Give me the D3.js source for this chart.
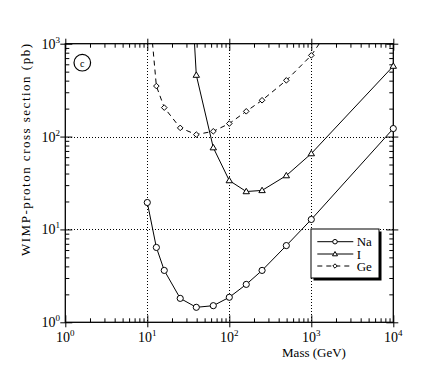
<!DOCTYPE html>
<html>
<head>
<meta charset="utf-8">
<script src="https://cdn.jsdelivr.net/npm/d3@7"></script>
<style>
  html, body { margin: 0; padding: 0; background: #fff; }
  svg { display: block; }
  text { font-family: "Liberation Serif", "Times New Roman", serif; fill: #000; }
</style>
</head>
<body>
<svg id="chart" width="423" height="381"></svg>
<script>
// ---- data ----
const massTicks = [1, 10, 100, 1000, 10000];
const massExponents = ["0", "1", "2", "3", "4"];
const sigmaTicks = [1, 10, 100, 1000];
const sigmaExponents = ["0", "1", "2", "3"];

// Na (circles, solid)
const naMass  = [10, 12.9, 16.1, 25.2, 39.6, 63.8, 100, 161, 251, 496, 1000, 10000];
const naSigma = [19.5, 6.4, 3.62, 1.81, 1.45, 1.51, 1.86, 2.56, 3.62, 6.7, 12.8, 122];

// I (triangles, solid) - first point lies above the plotted range
const iMass  = [36, 39.6, 63.8, 100, 161, 251, 496, 1000, 10000];
const iSigma = [2000, 459, 76, 33.6, 25.6, 26.3, 38, 65.6, 574];

// Ge (diamonds, dashed) - first and last points lie above the plotted range
const geMass  = [10.8, 12.9, 16.1, 25.2, 39.6, 63.8, 100, 161, 251, 496, 1000, 1585];
const geSigma = [2000, 350, 205, 124, 105, 114, 138, 187, 246, 403, 749, 1356];

const seriesNames = ["Na", "I", "Ge"];
const gridMass = [10, 100, 1000];
const gridSigma = [10, 100];

// ---- layout ----
const svg = d3.select("#chart");
const x = d3.scaleLog().domain([1, 10000]).range([65.3, 393.3]);
const y = d3.scaleLog().domain([1, 1000]).range([322.3, 43.7]);
const [x0, x1] = x.range();
const [y0, y1] = y.range();

svg.append("rect").attr("width", 423).attr("height", 381).attr("fill", "#fff");

svg.append("defs").append("clipPath").attr("id", "plotclip")
  .append("rect").attr("x", x0).attr("y", y1).attr("width", x1 - x0).attr("height", y0 - y1);

// grid (dotted)
const grid = svg.append("g").attr("stroke", "#000").attr("stroke-width", 1)
  .attr("stroke-dasharray", "1,2").attr("shape-rendering", "crispEdges");
grid.selectAll("line.gx").data(gridMass).enter().append("line")
  .attr("x1", d => Math.round(x(d)) + 0.5).attr("x2", d => Math.round(x(d)) + 0.5)
  .attr("y1", y1).attr("y2", y0);
grid.selectAll("line.gy").data(gridSigma).enter().append("line")
  .attr("y1", d => Math.round(y(d)) + 0.5).attr("y2", d => Math.round(y(d)) + 0.5)
  .attr("x1", x0).attr("x2", x1);

// minor ticks (all log ticks, inside)
const minorX = x.ticks().filter(d => !massTicks.includes(d));
const minorY = y.ticks().filter(d => !sigmaTicks.includes(d));

function styleAxis(g) {
  g.select(".domain").remove();
  g.selectAll(".tick line").attr("stroke", "#000").attr("stroke-width", 1);
  g.selectAll(".tick text").remove();
}
svg.append("g").attr("transform", `translate(0,${y0})`)
  .call(d3.axisBottom(x).tickValues(minorX).tickSize(-4).tickFormat("")).call(styleAxis);
svg.append("g").attr("transform", `translate(0,${y1})`)
  .call(d3.axisTop(x).tickValues(minorX).tickSize(-4).tickFormat("")).call(styleAxis);
svg.append("g").attr("transform", `translate(${x0},0)`)
  .call(d3.axisLeft(y).tickValues(minorY).tickSize(-4).tickFormat("")).call(styleAxis);
svg.append("g").attr("transform", `translate(${x1},0)`)
  .call(d3.axisRight(y).tickValues(minorY).tickSize(-4).tickFormat("")).call(styleAxis);

// major ticks (outside + inside)
[5, -7].forEach(len => {
  svg.append("g").attr("transform", `translate(0,${y0})`)
    .call(d3.axisBottom(x).tickValues(massTicks).tickSize(len).tickFormat("")).call(styleAxis);
  svg.append("g").attr("transform", `translate(0,${y1})`)
    .call(d3.axisTop(x).tickValues(massTicks).tickSize(len).tickFormat("")).call(styleAxis);
  svg.append("g").attr("transform", `translate(${x0},0)`)
    .call(d3.axisLeft(y).tickValues(sigmaTicks).tickSize(len).tickFormat("")).call(styleAxis);
  svg.append("g").attr("transform", `translate(${x1},0)`)
    .call(d3.axisRight(y).tickValues(sigmaTicks).tickSize(len).tickFormat("")).call(styleAxis);
});

// frame
svg.append("rect").attr("x", x0).attr("y", y1).attr("width", x1 - x0).attr("height", y0 - y1)
  .attr("fill", "none").attr("stroke", "#000").attr("stroke-width", 1.3);

// tick labels
const xl = svg.append("g").attr("font-size", 14);
massTicks.forEach((d, i) => {
  const t = xl.append("text").attr("x", x(d)).attr("y", 342).attr("text-anchor", "middle");
  t.append("tspan").text("10");
  t.append("tspan").attr("dy", -6).attr("font-size", 9).text(massExponents[i]);
});
const yl = svg.append("g").attr("font-size", 14);
sigmaTicks.forEach((d, i) => {
  const t = yl.append("text").attr("x", 60).attr("y", y(d) + 5).attr("text-anchor", "end");
  t.append("tspan").text("10");
  t.append("tspan").attr("dy", -6).attr("font-size", 9).text(sigmaExponents[i]);
});

// axis titles
svg.append("text").attr("x", 314).attr("y", 357).attr("text-anchor", "middle")
  .attr("font-size", 13).text("Mass (GeV)");
svg.append("text").attr("transform", "translate(30,150) rotate(-90)")
  .attr("text-anchor", "middle").attr("font-size", 13)
  .attr("textLength", 212).attr("lengthAdjust", "spacing")
  .text("WIMP-proton cross section (pb)");

// panel label
svg.append("circle").attr("cx", 82.3).attr("cy", 62.7).attr("r", 8.3)
  .attr("fill", "none").attr("stroke", "#000").attr("stroke-width", 1.2);
svg.append("text").attr("x", 82.3).attr("y", 66.5).attr("text-anchor", "middle")
  .attr("font-family", "DejaVu Sans, sans-serif").attr("font-size", 10).text("c");

// ---- series ----
const series = [
  { name: "Na", mass: naMass, sigma: naSigma, dash: null, marker: "circle" },
  { name: "I",  mass: iMass,  sigma: iSigma,  dash: null, marker: "triangle" },
  { name: "Ge", mass: geMass, sigma: geSigma, dash: "5,4", marker: "diamond" }
];
const symbolPath = {
  circle: d3.symbol().type(d3.symbolCircle).size(30)(),
  triangle: "M0,-3.2L3.2,2.2L-3.2,2.2Z",
  diamond: "M0,-2.8L2.8,0L0,2.8L-2.8,0Z"
};
const line = d3.line().x(d => x(d[0])).y(d => y(d[1]));
const plot = svg.append("g").attr("clip-path", "url(#plotclip)");
series.forEach(s => {
  const pts = s.mass.map((m, i) => [m, s.sigma[i]]);
  plot.append("path").attr("d", line(pts)).attr("fill", "none")
    .attr("stroke", "#000").attr("stroke-width", 1)
    .attr("stroke-dasharray", s.dash);
  const inRange = pts.filter(p => p[1] <= 1000);
  svg.append("g").selectAll("path").data(inRange).enter().append("path")
    .attr("transform", d => `translate(${x(d[0])},${y(d[1])})`)
    .attr("d", symbolPath[s.marker])
    .attr("fill", "#fff").attr("stroke", "#000").attr("stroke-width", 1);
});

// ---- legend ----
const lg = svg.append("g");
lg.append("rect").attr("x", 313.5).attr("y", 231.5).attr("width", 68).attr("height", 49).attr("fill", "#000");
lg.append("rect").attr("x", 311).attr("y", 229).attr("width", 68).attr("height", 49)
  .attr("fill", "#fff").attr("stroke", "#000").attr("stroke-width", 1);
const rowY = [241.7, 254, 266];
series.forEach((s, i) => {
  lg.append("line").attr("x1", 317.3).attr("x2", 353.3).attr("y1", rowY[i]).attr("y2", rowY[i])
    .attr("stroke", "#000").attr("stroke-width", 1).attr("stroke-dasharray", s.dash);
  const sm = s.marker === "circle" ? d3.symbol().type(d3.symbolCircle).size(16)()
    : s.marker === "triangle" ? "M0,-2.5L2.5,1.8L-2.5,1.8Z" : "M0,-2.2L2.2,0L0,2.2L-2.2,0Z";
  lg.append("path").attr("transform", `translate(335,${rowY[i]})`).attr("d", sm)
    .attr("fill", "#fff").attr("stroke", "#000").attr("stroke-width", 1);
  lg.append("text").attr("x", 356.7).attr("y", rowY[i] + 4.5).attr("font-size", 13).text(seriesNames[i]);
});
</script>
</body>
</html>
